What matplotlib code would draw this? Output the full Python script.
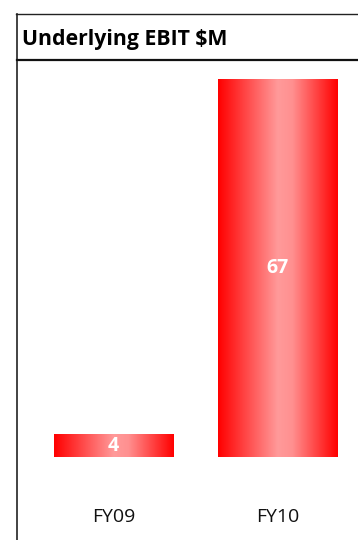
import numpy as np
import matplotlib
matplotlib.use('Agg')
import matplotlib.pyplot as plt
from matplotlib.colors import LinearSegmentedColormap
from matplotlib.lines import Line2D

# Underlying EBIT by financial year
categories = ['FY09', 'FY10']
values = [4, 67]

plt.rcParams['font.family'] = ['Open Sans', 'DejaVu Sans']

W, H = 358, 540
fig = plt.figure(figsize=(W / 100, H / 100), dpi=100)

def fx(px):
    return px / W

def fy(py):
    return 1 - py / H

# plot area below the title rule
ax = fig.add_axes([fx(17), 0, fx(W - 17), fy(60)])
ax.axis('off')

# red -> pink -> red horizontal shading for each bar
shade = LinearSegmentedColormap.from_list(
    'barshade', [(0.0, '#ff0000'), (0.5, '#ff9a9a'), (0.62, '#ff9090'), (1.0, '#ff0000')])
grad = np.linspace(0, 1, 256).reshape(1, -1)

bar_w = 0.726
x = np.arange(len(categories))
bars = ax.bar(x, values, width=bar_w, color='none', edgecolor='none')
for b, v in zip(bars, values):
    x0 = b.get_x()
    ax.imshow(grad, cmap=shade, aspect='auto', interpolation='bicubic',
              extent=(x0, x0 + b.get_width(), 0, b.get_height()), zorder=2)
    ax.text(b.get_x() + b.get_width() / 2, v / 2, str(v), ha='center', va='center',
            color='white', fontsize=14, fontweight='bold', zorder=3)

for xi, c in zip(x, categories):
    ax.text(xi, -10.7, c, ha='center', va='center', fontsize=14, color='#111111')

ax.set_xlim(-0.588, 1.491)
ax.set_ylim(-14.75, 70.55)

# frame lines and title
fig.add_artist(Line2D([fx(16), 1], [fy(14), fy(14)], color='#222222', lw=1.0))
fig.add_artist(Line2D([fx(17), fx(17)], [fy(14), 0], color='#222222', lw=1.2))
fig.add_artist(Line2D([fx(17), 1], [fy(59.5), fy(59.5)], color='#111111', lw=1.6))
fig.text(fx(22), fy(39), 'Underlying EBIT $M', ha='left', va='center',
         fontsize=15.3, fontweight='bold', color='black')

fig.savefig('out.png', dpi=100)
